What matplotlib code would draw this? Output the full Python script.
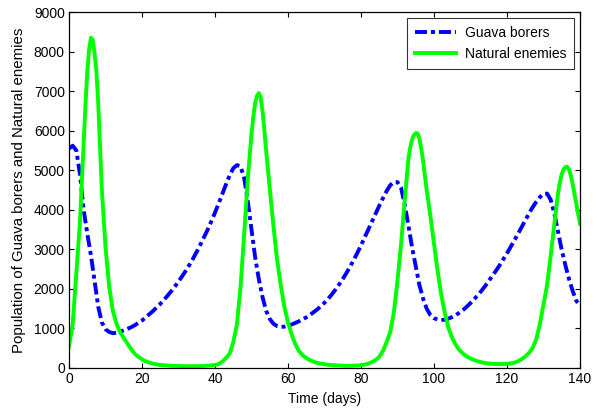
import numpy as np
import matplotlib
matplotlib.use('Agg')
import matplotlib.pyplot as plt

plt.rcParams['font.family'] = ['Liberation Sans', 'DejaVu Sans']

# guava borers, one value per day
borer_days = list(range(0, 141))
guava_borers = [
    5550, 5620, 5500, 4900, 4000, 3400, 2850, 2200, 1550, 1150,   # 0-9
    980, 910, 880, 890, 920, 950, 990, 1030, 1080, 1140,          # 10-19
    1200, 1280, 1360, 1440, 1530, 1620, 1720, 1830, 1940, 2060,   # 20-29
    2190, 2320, 2460, 2610, 2770, 2940, 3120, 3310, 3500, 3710,   # 30-39
    3930, 4160, 4400, 4640, 4870, 5050, 5130, 5100, 4800, 4200,   # 40-49
    3500, 2800, 2250, 1800, 1450, 1240, 1120, 1060, 1040, 1045,   # 50-59
    1070, 1100, 1140, 1180, 1230, 1280, 1340, 1410, 1480, 1560,   # 60-69
    1650, 1750, 1860, 1980, 2110, 2250, 2400, 2560, 2730, 2910,   # 70-79
    3100, 3300, 3500, 3700, 3900, 4100, 4290, 4470, 4620, 4700,   # 80-89
    4700, 4550, 4120, 3600, 3050, 2580, 2100, 1760, 1500, 1340,   # 90-99
    1260, 1225, 1215, 1220, 1250, 1290, 1340, 1400, 1470, 1550,   # 100-109
    1640, 1740, 1840, 1950, 2070, 2200, 2330, 2460, 2600, 2750,   # 110-119
    2900, 3060, 3220, 3390, 3560, 3730, 3900, 4060, 4200, 4320,   # 120-129
    4400, 4410, 4250, 3900, 3450, 2990, 2600, 2250, 1950, 1700,   # 130-139
    1570,                                                         # 140
]

# natural enemies, read daily plus half days around the sharp peaks
enemy_days = (
    [0, 1, 2, 3, 4, 4.5, 5, 5.5, 6, 6.5, 7, 7.5, 8, 8.5, 9]
    + list(range(10, 50))
    + [50, 50.5, 51, 51.5, 52, 52.5, 53, 53.5, 54]
    + list(range(55, 93))
    + [93, 93.5, 94, 94.5, 95, 95.5, 96, 96.5, 97]
    + list(range(98, 134))
    + [134, 134.5, 135, 135.5, 136, 136.5, 137, 137.5, 138, 139, 140]
)
natural_enemies = (
    [550, 1100, 2400, 3700, 5650, 6650, 7500, 8050, 8350, 8300, 7950, 7500, 6700, 5600, 4500]
    + [3050, 2060, 1450, 1120, 900, 760, 620, 480, 360, 280,     # 10-19
       220, 170, 135, 110, 90, 78, 70, 62, 56, 52,                # 20-29
       50, 48, 46, 45, 45, 46, 48, 52, 58, 65,                    # 30-39
       75, 100, 160, 250, 360, 650, 1100, 2050, 3400, 4800]       # 40-49
    + [5920, 6350, 6700, 6880, 6950, 6850, 6500, 6050, 5500]
    + [4550, 3600, 2750, 2100, 1550,                              # 55-59
       1150, 850, 600, 430, 320, 250, 200, 160, 130, 110,         # 60-69
       95, 80, 75, 68, 62, 58, 55, 55, 58, 63,                    # 70-79
       70, 85, 110, 150, 200, 280, 430, 650, 900, 1400,           # 80-89
       2200, 3150, 4250]                                          # 90-92
    + [5300, 5580, 5780, 5890, 5940, 5930, 5800, 5560, 5250]
    + [4500, 3850,                                                # 98-99
       3150, 2450, 1850, 1385, 1000, 760, 580, 450, 360, 290,     # 100-109
       240, 200, 170, 145, 125, 115, 105, 100, 100, 100,          # 110-119
       105, 115, 135, 170, 220, 290, 380, 500, 720, 1100,         # 120-129
       1600, 2100, 2850, 3650]                                    # 130-133
    + [4420, 4700, 4900, 5020, 5080, 5090, 5020, 4870, 4650, 4150, 3650]
)

x_ticks = list(range(0, 141, 20))
y_ticks = list(range(0, 9001, 1000))

fig = plt.figure(figsize=(5.93, 4.16), dpi=100)
ax = fig.add_axes([0.1164, 0.1154, 0.8616, 0.8556])

lw = 2.8
px = 1 / 1.389 / lw   # one pixel in dash units
ax.plot(borer_days, guava_borers, color=(0, 0, 1), linewidth=lw,
        dashes=[12 * px, 4 * px, 4 * px, 4 * px], label='Guava borers')
ax.plot(enemy_days, natural_enemies, color=(0, 1, 0), linewidth=lw,
        label='Natural enemies')

ax.set_xlim(0, 140)
ax.set_ylim(0, 9000)
ax.set_xticks(x_ticks)
ax.set_yticks(y_ticks)
ax.tick_params(direction='in', length=3.5, width=0.8, top=True, right=True,
               labelsize=10, colors='black', pad=3)
for s in ax.spines.values():
    s.set_linewidth(0.9)

ax.set_xlabel('Time (days)', fontsize=10, labelpad=4.5)
ax.set_ylabel('Population of Guava borers and Natural enemies', fontsize=10.8, labelpad=5.5)

leg = ax.legend(loc='upper right', fontsize=10, frameon=True, fancybox=False,
                edgecolor='black', handlelength=3.0, borderaxespad=0.45,
                handletextpad=0.6, borderpad=0.55, labelspacing=0.5)
leg.get_frame().set_linewidth(0.8)

fig.savefig('out.png', dpi=100)
